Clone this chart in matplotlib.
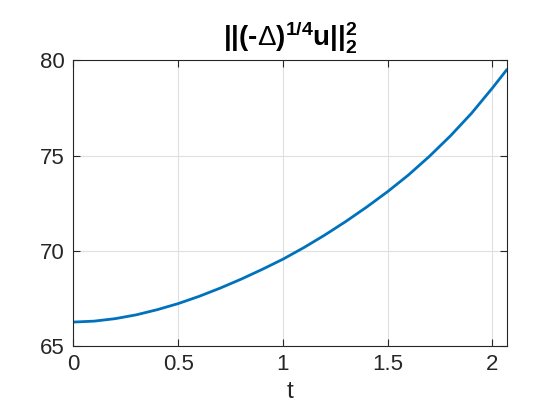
import matplotlib
matplotlib.use("Agg")
import matplotlib.pyplot as plt

t_vals = [0.0, 0.1, 0.2, 0.3, 0.4, 0.5, 0.6, 0.7, 0.8, 0.9, 1.0,
          1.1, 1.2, 1.3, 1.4, 1.5, 1.6, 1.7, 1.8, 1.9, 2.0, 2.067]
norm_vals = [66.26, 66.31, 66.44, 66.64, 66.91, 67.23, 67.61, 68.04, 68.51, 69.02, 69.56,
             70.17, 70.83, 71.54, 72.30, 73.11, 73.99, 74.97, 76.04, 77.22, 78.55, 79.49]

x_ticks = [0, 0.5, 1, 1.5, 2]
x_ticklabels = ["0", "0.5", "1", "1.5", "2"]
y_ticks = [65, 70, 75, 80]

plt.rcParams['font.family'] = ['Liberation Sans', 'DejaVu Sans']
plt.rcParams['mathtext.fontset'] = 'custom'
plt.rcParams['mathtext.rm'] = 'Liberation Sans'
plt.rcParams['mathtext.it'] = 'Liberation Sans:italic'
plt.rcParams['mathtext.bf'] = 'Liberation Sans:bold'

fig = plt.figure(figsize=(5.6, 4.2), dpi=100)
ax = fig.add_axes([0.131, 0.176, 0.7735, 0.6804])

ax.plot(t_vals, norm_vals, color='#0072BD', linewidth=2.0)

ax.set_xlim(0, 2.067)
ax.set_ylim(65, 80)
ax.set_xticks(x_ticks)
ax.set_xticklabels(x_ticklabels)
ax.set_yticks(y_ticks)

ax.grid(True, color='#dfdfdf', linewidth=0.8)
ax.set_axisbelow(True)
ax.tick_params(direction='in', top=True, right=True, length=5, width=0.8,
               labelsize=16, colors='#262626', pad=6)
for s in ax.spines.values():
    s.set_color('#262626')
    s.set_linewidth(0.8)

ax.set_xlabel('t', fontsize=17.6, color='#262626', labelpad=4)
ax.set_title('$\\mathbf{||(\u2010}\\Delta\\mathbf{)^{1/4}u||_2^2}$', fontsize=20,
             color='black', pad=11)

fig.savefig('out.png', dpi=100)
